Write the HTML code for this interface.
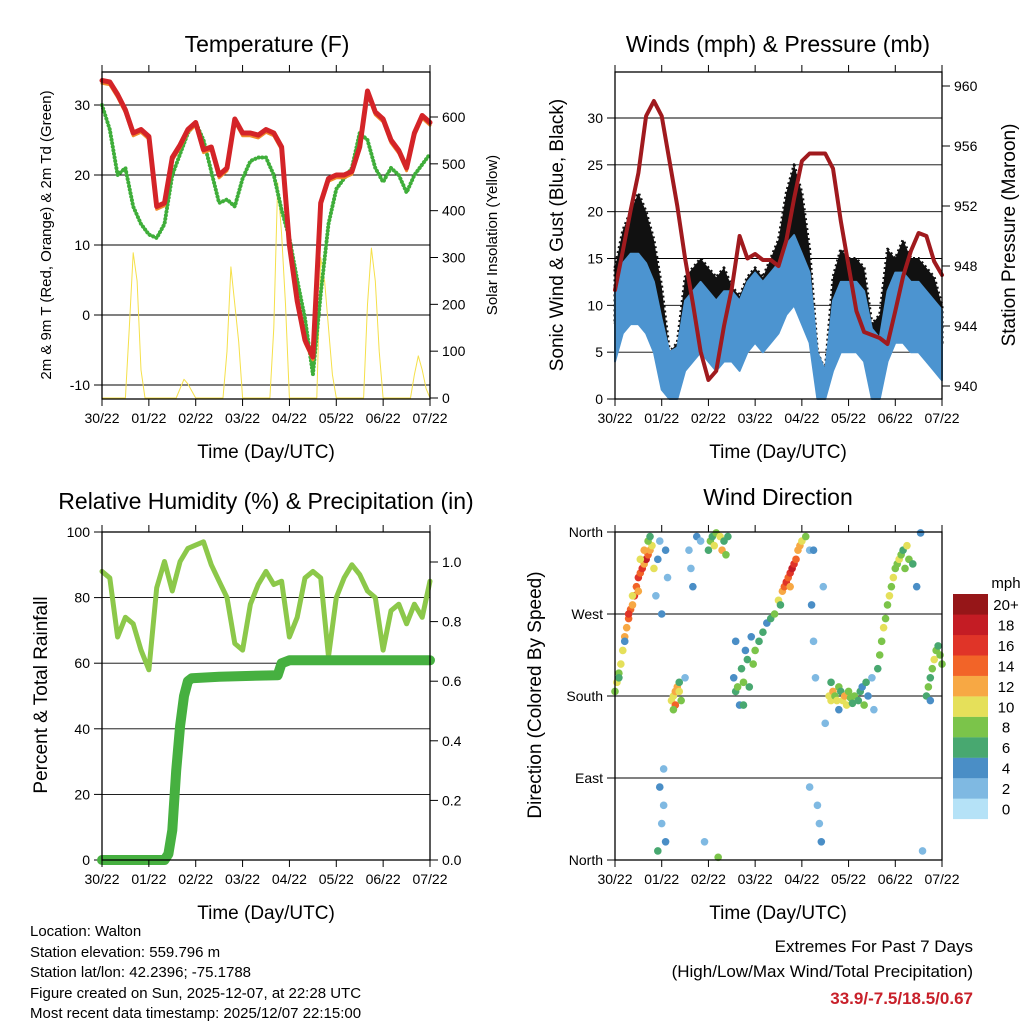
<!DOCTYPE html>
<html><head><meta charset="utf-8"><style>
body{margin:0;background:#fff}
svg{display:block;font-family:"Liberation Sans",sans-serif}
</style></head><body>
<svg id="s" width="1024" height="1024" viewBox="0 0 1024 1024">
<text x="267" y="52" font-size="23" text-anchor="middle">Temperature (F)</text>
<text x="778" y="52" font-size="23" text-anchor="middle">Winds (mph) &amp; Pressure (mb)</text>
<text x="266" y="509" font-size="23" text-anchor="middle">Relative Humidity (%) &amp; Precipitation (in)</text>
<text x="778" y="505" font-size="23" text-anchor="middle">Wind Direction</text>
<text x="266" y="458" font-size="19" text-anchor="middle">Time (Day/UTC)</text>
<text x="778" y="458" font-size="19" text-anchor="middle">Time (Day/UTC)</text>
<text x="266" y="919" font-size="19" text-anchor="middle">Time (Day/UTC)</text>
<text x="778" y="919" font-size="19" text-anchor="middle">Time (Day/UTC)</text>
<text transform="translate(51,235) rotate(-90)" font-size="15" text-anchor="middle">2m &amp; 9m T (Red, Orange) &amp; 2m Td (Green)</text>
<text transform="translate(497,235) rotate(-90)" font-size="15" text-anchor="middle">Solar Insolation (Yellow)</text>
<text transform="translate(563,235) rotate(-90)" font-size="19" text-anchor="middle">Sonic Wind &amp; Gust (Blue, Black)</text>
<text transform="translate(1015,235) rotate(-90)" font-size="19" text-anchor="middle">Station Pressure (Maroon)</text>
<text transform="translate(47,695) rotate(-90)" font-size="19" text-anchor="middle">Percent &amp; Total Rainfall</text>
<text transform="translate(541,695) rotate(-90)" font-size="19" text-anchor="middle">Direction (Colored By Speed)</text>
<g font-size="15">
<text x="30" y="936">Location: Walton</text>
<text x="30" y="957">Station elevation: 559.796 m</text>
<text x="30" y="977">Station lat/lon: 42.2396; -75.1788</text>
<text x="30" y="998">Figure created on Sun, 2025-12-07, at 22:28 UTC</text>
<text x="30" y="1018">Most recent data timestamp: 2025/12/07 22:15:00</text>
</g>
<g text-anchor="end">
<text x="973" y="952" font-size="17">Extremes For Past 7 Days</text>
<text x="973" y="977" font-size="17">(High/Low/Max Wind/Total Precipitation)</text>
<text x="973" y="1004" font-size="17" font-weight="bold" fill="#c8202a">33.9/-7.5/18.5/0.67</text>
</g>
<g id="g"></g>
</svg>
<script>
// ---------- data ----------
const dayLabels=["30/22","01/22","02/22","03/22","04/22","05/22","06/22","07/22"];
const t4=[0,4,8,12,16,20,24,28,32,36,40,44,48,52,56,60,64,68,72,76,80,84,88,92,96,100,104,108,112,116,120,124,128,132,136,140,144,148,152,156,160,164,168];
const tempRed=[33.5,33.3,31.5,29.3,26,26.5,25.5,15.5,16,22.5,24.3,26.5,27.5,23.6,24,20,21,28,26,26,25.7,26.5,26,24,10,2,-3.6,-6,16,19.5,20,20,20.5,24,32,29,28,25,23.5,21,26,28.5,27.5];
const dewGreen=[30,26.5,20,21,15.5,13,11.5,11,13,20,23,26,27.5,25,20.5,16,16.5,15.5,19.5,22,22.5,22.5,20,15,11,5,-0.5,-8.5,3,13,18,19.5,21,26,25,21,19,21,20,17.5,20,21.5,23];
const solar=[0,0,0,0,0,0,0,150,310,250,60,0,0,0,0,0,0,0,0,0,20,40,30,15,0,0,0,0,0,0,0,0,100,280,200,120,0,0,0,0,0,0,0,0,150,460,350,200,0,0,0,0,0,0,0,0,300,250,150,50,0,0,0,0,0,0,0,0,200,320,250,100,0,0,0,0,0,0,0,0,50,90,60,20,0];
const pressure=[946.4,949,951.7,954.2,958,959,958,955,952,948.5,945.5,942.3,940.4,941,944,946.5,950,948.5,948.8,948.4,948.4,948,949.7,952.5,955,955.5,955.5,955.5,954.5,951,948,945,943.6,943.4,943.2,942.8,945,947.3,949,950.2,950,948.3,947.4];
const windMean=[8,11,12,12,11,9,5,2,2,7,8,9,8,7,8,8,7,9,10,9,10,11,13,14,12,10,3,1,7,9,9,9,8,4,3,8,10,10,9,9,8,7,6];
const windGust=[14,18,20,22,20,17,12,5,6,13,14,15,14,13,14,12,11,13,14,13,15,17,22,25,22,16,5,3,13,16,15,15,14,8,9,16,15,17,15,15,14,13,10];
const rh=[88,86,68,74,72,64,58,83,91,82,91,95,96,97,90,85,80,66,64,78,84,88,84,85,68,74,86,88,86,62,80,86,90,87,82,80,64,76,78,72,78,74,85];
const rainT=[0,32,34,36,38,40,42,44,46,60,90,92,96,168];
const rainV=[0,0,0.02,0.1,0.3,0.45,0.55,0.6,0.61,0.615,0.62,0.66,0.67,0.67];
const dirT=[0,1,2,3,4,5,6,7,8,9,10,2,5,7,9,11,12,13,14,15,16,17,18,19,13,15,17,20,12,18,21,22,23,24,24,25,26,27,22,23,25,26,29,30,31,32,33,34,31,33,30,38,40,42,44,46,36,39,49,50,51,52,54,55,56,57,58,48,53,61,62,63,64,65,66,67,68,69,70,72,74,76,78,62,66,71,80,82,84,86,87,88,89,90,91,92,93,94,95,96,98,85,90,100,101,102,103,104,105,106,100,107,108,102,110,111,112,113,114,115,116,117,118,119,120,121,122,123,111,115,125,126,127,128,129,130,132,133,135,136,137,138,139,140,141,142,143,144,145,146,147,148,149,150,151,153,155,157,158,160,161,162,163,164,165,166,167,168,162];
const dirV=[185,195,205,215,230,245,255,265,275,280,290,200,240,270,290,300,310,315,320,325,330,335,340,345,330,340,350,320,295,355,290,330,350,270,40,60,20,310,10,80,100,340,175,180,185,190,185,175,170,195,165,340,300,355,350,20,200,320,350,355,345,359,355,340,350,335,355,340,3,200,185,190,170,210,195,230,220,190,245,230,240,250,260,240,170,215,265,270,285,295,300,305,310,315,320,325,330,340,345,350,355,280,300,340,280,240,200,60,40,20,80,300,150,340,180,175,185,180,175,190,185,175,180,170,185,178,172,180,195,165,175,185,190,170,195,180,200,165,210,225,240,255,265,280,290,300,310,320,325,330,335,340,320,345,330,325,300,359,10,180,190,200,210,220,230,235,225,215,175];
const dirS=[8,9,8,10,9,11,12,13,14,12,15,6,4,16,10,14,16,13,15,12,17,14,11,10,9,12,8,10,12,6,2,3,1,3,2,1,3,2,5,3,2,3,9,10,12,11,9,8,14,6,7,2,3,4,2,1,2,1,8,6,10,7,9,12,6,8,5,6,8,4,5,7,3,6,8,4,6,5,4,7,5,6,4,3,6,7,5,7,9,11,13,15,14,16,17,15,13,12,11,9,8,6,12,2,3,1,2,2,1,3,2,1,1,4,10,9,11,8,10,8,6,10,12,9,7,8,6,8,5,4,5,6,4,7,5,3,2,1,6,8,7,9,8,7,9,8,10,7,8,9,7,6,8,9,7,5,4,3,2,6,7,5,8,9,7,6,8,7,4];
const speedLabels=["0","2","4","6","8","10","12","14","16","18","20+"];
const speedColors=["#b5e2f7","#7fb9e2","#4a8ec6","#48a870","#7bc44a","#e5e05a","#f7a844","#f26428","#e03428","#c41c24","#961618"];

// ---------- helpers ----------
const NS="http://www.w3.org/2000/svg";
const G=document.getElementById('g');
function mk(tag,attrs,parent){const e=document.createElementNS(NS,tag);for(const k in attrs)e.setAttribute(k,attrs[k]);(parent||G).appendChild(e);return e;}
function lin(d0,d1,r0,r1){return v=>r0+(v-d0)/(d1-d0)*(r1-r0);}
function txt(x,y,s,anchor,size,parent){const e=mk('text',{x:x,y:y,'text-anchor':anchor,'font-size':size},parent);e.textContent=s;return e;}
function panel(name,L,T,R,B){const g=mk('g',{});return {g,L,T,R,B,x:lin(0,168,L,R)};}
function frame(p){const r=mk('rect',{x:p.L,y:p.T,width:p.R-p.L,height:p.B-p.T,fill:'none',stroke:'#000','stroke-width':1.3},p.g);
 dayLabels.forEach((lab,i)=>{const x=p.x(i*24);mk('line',{x1:x,x2:x,y1:p.B,y2:p.B+7,stroke:'#000'},p.g);mk('line',{x1:x,x2:x,y1:p.T,y2:p.T-7,stroke:'#000'},p.g);
 const t=txt(x,p.B+24,lab,'middle',14,p.g);});}
function yticks(p,vals,fy,labels,side,grid){vals.forEach((v,i)=>{const y=fy(v);
 if(grid)mk('line',{x1:p.L,x2:p.R,y1:y,y2:y,stroke:'#000','stroke-width':0.9},p.g);
 if(side==='L'){mk('line',{x1:p.L-8,x2:p.L,y1:y,y2:y,stroke:'#000'},p.g);const t=txt(p.L-12,y+5,labels[i],'end',14,p.g);}
 else{mk('line',{x1:p.R,x2:p.R+8,y1:y,y2:y,stroke:'#000'},p.g);const t=txt(p.R+12,y+5,labels[i],'start',14,p.g);}});}
function poly(p,xs,ys,style,name){const pts=xs.map((x,i)=>x.toFixed(1)+','+ys[i].toFixed(1)).join(' ');const e=mk('polyline',Object.assign({points:pts,fill:'none','stroke-linejoin':'round','stroke-linecap':'round'},style),p.g);return e;}

// ---------- Panel 1: Temperature ----------
{const p=panel('temperature-panel',102,72,430,399);
 const fy=lin(-10,30,385,105), fs=lin(0,600,398,117);
 mk('rect',{x:p.L,y:p.T,width:p.R-p.L,height:p.B-p.T,fill:'#fff'},p.g);
 yticks(p,[30,20,10,0,-10],fy,["30","20","10","0","-10"],'L',true);
 yticks(p,[0,100,200,300,400,500,600],fs,["0","100","200","300","400","500","600"],'R',false);
 const st=solar.map((v,i)=>i*2);
 poly(p,st.map(p.x),solar.map(fs),{stroke:'#f5e04a','stroke-width':1},'solar-line');
 poly(p,t4.map(p.x),dewGreen.map(fy),{stroke:'#3fae3a','stroke-width':4,'stroke-dasharray':'0.1 3.5'},'dewpoint-line');
 poly(p,t4.map(p.x),tempRed.map(v=>fy(v-0.4)),{stroke:'#f08a2a','stroke-width':3},'temp-9m-line');
 poly(p,t4.map(p.x),tempRed.map(fy),{stroke:'#d42428','stroke-width':5},'temp-2m-line');
 frame(p);}

// ---------- Panel 2: Winds & Pressure ----------
{const p=panel('winds-panel',615,72,942,399);
 const fy=lin(0,30,399,118), fp=lin(940,960,386,86);
 mk('rect',{x:p.L,y:p.T,width:p.R-p.L,height:p.B-p.T,fill:'#fff'},p.g);
 yticks(p,[0,5,10,15,20,25,30],fy,["0","5","10","15","20","25","30"],'L',true);
 yticks(p,[940,944,948,952,956,960],fp,["940","944","948","952","956","960"],'R',false);
 const xs=t4.map(p.x);
 const gustPts=xs.map((x,i)=>x.toFixed(1)+','+fy(windGust[i]).toFixed(1)).concat(xs.slice().reverse().map((x,j)=>{const i=xs.length-1-j;return x.toFixed(1)+','+fy(windMean[i]).toFixed(1);})).join(' ');
 const ga=mk('polygon',{points:gustPts,fill:'#111',stroke:'#111','stroke-width':3,'stroke-linejoin':'round','stroke-dasharray':'2 3'},p.g);
 
 const bandPts=xs.map((x,i)=>x.toFixed(1)+','+fy(Math.min(windGust[i],windMean[i]+3.5)).toFixed(1)).concat(xs.slice().reverse().map((x,j)=>{const i=xs.length-1-j;return x.toFixed(1)+','+fy(Math.max(0,windMean[i]-4)).toFixed(1);})).join(' ');
 const ba=mk('polygon',{points:bandPts,fill:'#4c94d0',stroke:'#4c94d0','stroke-width':2,'stroke-linejoin':'round'},p.g);
 
 poly(p,xs,pressure.map(fp),{stroke:'#a01a1e','stroke-width':4},'pressure-line');
 frame(p);}

// ---------- Panel 3: Humidity & Precip ----------
{const p=panel('humidity-panel',102,532,430,860);
 const fy=lin(0,100,860,532), fr=lin(0,1,860,562);
 yticks(p,[0,20,40,60,80,100],fy,["0","20","40","60","80","100"],'L',true);
 yticks(p,[0,0.2,0.4,0.6,0.8,1.0],fr,["0.0","0.2","0.4","0.6","0.8","1.0"],'R',false);
 poly(p,t4.map(p.x),rh.map(fy),{stroke:'#8cc84a','stroke-width':5},'rh-line');
 poly(p,rainT.map(p.x),rainV.map(fr),{stroke:'#46b040','stroke-width':10},'rain-line');
 frame(p);}

// ---------- Panel 4: Wind Direction ----------
{const p=panel('direction-panel',615,532,942,860);
 const fy=lin(0,360,860,532);
 yticks(p,[0,90,180,270,360],fy,["North","East","South","West","North"],'L',true);
 dirT.forEach((t,i)=>{const bin=Math.min(10,Math.max(0,Math.round(dirS[i]/2)));
  const c=mk('circle',{cx:p.x(t),cy:fy(dirV[i]),r:3.8,fill:speedColors[bin]},p.g);
  
  });
 frame(p);
 const cb=mk('g',{});
 txt(1006,588,'mph','middle',15,cb);
 speedColors.forEach((c,i)=>{const j=10-i;const y=594+j*20.45;
  const r=mk('rect',{x:953,y:y,width:35,height:20.6,fill:c},cb);
  const t=txt(1006,y+16,speedLabels[i],'middle',15,cb);});}
</script>
</body></html>
